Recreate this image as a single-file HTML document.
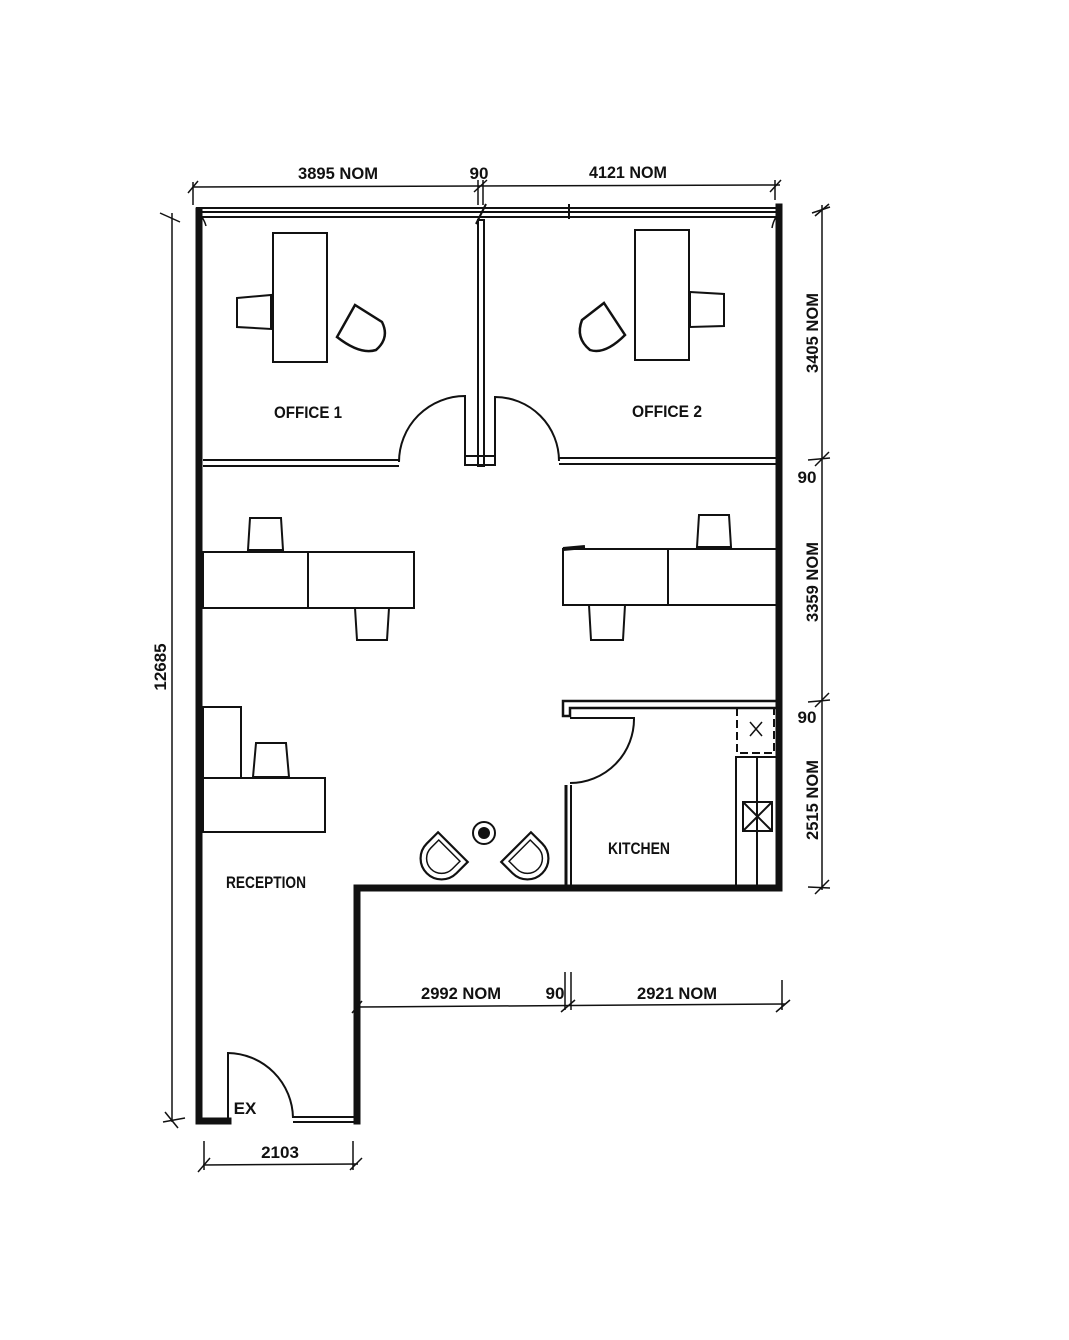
<!DOCTYPE html>
<html><head><meta charset="utf-8"><style>
html,body{margin:0;padding:0;background:#fff}
svg{display:block}
text{font-family:"Liberation Sans",sans-serif;font-size:17px;fill:#111;font-weight:bold}
</style></head><body>
<svg width="1069" height="1340" viewBox="0 0 1069 1340" xmlns="http://www.w3.org/2000/svg" fill="none" stroke="#111" stroke-width="2">
<g stroke-width="7" stroke-linecap="square">
<line x1="199" y1="211" x2="199" y2="1121"/>
<line x1="779" y1="207" x2="779" y2="887"/>
<line x1="357" y1="888" x2="779" y2="888"/>
<line x1="357" y1="888" x2="357" y2="1121"/>
<line x1="199" y1="1121" x2="228" y2="1121"/>
</g>
<line x1="196" y1="208" x2="782" y2="208"/>
<line x1="202" y1="212" x2="776" y2="212"/>
<line x1="202" y1="217" x2="776" y2="217"/>
<line x1="569" y1="204" x2="569" y2="219"/>
<path d="M202 217 Q205 222 206 226 M776 217 Q773 222 772 228" stroke-width="1.5"/>
<rect x="478" y="220" width="6" height="246" stroke-width="2"/>
<line x1="476" y1="224" x2="486" y2="204"/>
<rect x="465" y="456" width="30" height="9" stroke-width="2"/>
<line x1="203" y1="460" x2="399" y2="460"/><line x1="203" y1="466" x2="399" y2="466"/>
<line x1="559" y1="458" x2="777" y2="458"/><line x1="559" y1="464" x2="777" y2="464"/>
<path d="M465 464 L465 396 A66 66 0 0 0 399 462"/>
<path d="M495 464 L495 397 A64 64 0 0 1 559 461"/>
<rect x="273" y="233" width="54" height="129"/>
<path d="M237 298 L271 295 L271 329 L237 327 Z"/>
<path d="M355 305 L337 337 Q360 355 376 350 Q390 338 382 322 Z" stroke-width="2.5"/>
<rect x="635" y="230" width="54" height="130"/>
<path d="M690 292 L724 294 L724 326 L690 327 Z"/>
<path d="M604 303 L625 335 Q605 355 590 350 Q575 338 582 320 Z" stroke-width="2.5"/>
<rect x="203" y="552" width="211" height="56"/><line x1="308" y1="552" x2="308" y2="608"/>
<path d="M250 518 L281 518 L283 550 L248 550 Z"/>
<path d="M355 608 L389 608 L387 640 L357 640 Z"/>
<rect x="563" y="549" width="214" height="56"/><line x1="668" y1="549" x2="668" y2="605"/>
<line x1="563" y1="549" x2="585" y2="547" stroke-width="4"/>
<path d="M699 515 L729 515 L731 547 L697 547 Z"/>
<path d="M589 605 L625 605 L623 640 L591 640 Z"/>
<rect x="203" y="707" width="38" height="71"/>
<rect x="203" y="778" width="122" height="54"/>
<path d="M256 743 L286 743 L289 777 L253 777 Z"/>
<g transform="translate(443 857) rotate(45)">
<path d="M-21 -14 L21 -14 L21 2 A21 21 0 0 1 -21 2 Z" stroke-width="2.2"/>
<path d="M-15 -9 L15 -9 L15 2 A15 15 0 0 1 -15 2 Z" stroke-width="1.5"/>
</g>
<g transform="translate(526 857) rotate(-45)">
<path d="M-21 -14 L21 -14 L21 2 A21 21 0 0 1 -21 2 Z" stroke-width="2.2"/>
<path d="M-15 -9 L15 -9 L15 2 A15 15 0 0 1 -15 2 Z" stroke-width="1.5"/>
</g>
<circle cx="484" cy="833" r="11" stroke-width="2"/>
<circle cx="484" cy="833" r="6" fill="#111" stroke="none"/>
<path d="M777 701 L563 701 L563 716 L570 716 L570 708 L777 708" stroke-width="2.5"/>
<line x1="566" y1="785" x2="566" y2="888" stroke-width="3"/><line x1="571" y1="785" x2="571" y2="888"/>
<path d="M570 718 L634 718 A64 64 0 0 1 570 783"/>
<rect x="737" y="708" width="37" height="45" stroke-dasharray="8 4"/>
<path d="M750 722 L762 736 M762 722 L750 736" stroke-width="1.5"/>
<rect x="736" y="757" width="41" height="129"/><line x1="757" y1="757" x2="757" y2="886"/>
<rect x="743" y="802" width="29" height="29"/>
<path d="M743 802 L772 831 M772 802 L743 831"/>
<path d="M228 1121 L228 1053 A66 66 0 0 1 293 1118"/>
<line x1="293" y1="1117" x2="357" y2="1117"/><line x1="293" y1="1122" x2="357" y2="1122"/>
<g stroke-width="1.5">
<line x1="193" y1="187" x2="780" y2="185"/>
<line x1="193" y1="182" x2="193" y2="205"/><line x1="188" y1="193" x2="198" y2="181"/>
<line x1="478" y1="180" x2="478" y2="205"/><line x1="483" y1="180" x2="483" y2="205"/><line x1="474" y1="192" x2="487" y2="180"/>
<line x1="775" y1="180" x2="775" y2="200"/><line x1="770" y1="192" x2="781" y2="180"/>
<line x1="172" y1="213" x2="172" y2="1122"/>
<line x1="160" y1="213" x2="180" y2="222"/><line x1="163" y1="1122" x2="185" y2="1118"/><line x1="165" y1="1112" x2="178" y2="1128"/>
<line x1="822" y1="205" x2="822" y2="890"/>
<line x1="812" y1="213" x2="830" y2="207"/><line x1="815" y1="216" x2="829" y2="204"/>
<line x1="808" y1="460" x2="830" y2="458"/><line x1="815" y1="466" x2="829" y2="452"/>
<line x1="808" y1="702" x2="830" y2="700"/><line x1="815" y1="707" x2="829" y2="693"/>
<line x1="808" y1="887" x2="830" y2="888"/><line x1="815" y1="894" x2="829" y2="880"/>
<line x1="357" y1="1007" x2="785" y2="1004"/>
<line x1="352" y1="1013" x2="362" y2="1001"/>
<line x1="565" y1="972" x2="565" y2="1010"/><line x1="571" y1="972" x2="571" y2="1010"/><line x1="561" y1="1012" x2="575" y2="1000"/>
<line x1="782" y1="980" x2="782" y2="1010"/><line x1="776" y1="1012" x2="790" y2="1000"/>
<line x1="203" y1="1165" x2="358" y2="1164"/>
<line x1="204" y1="1141" x2="204" y2="1170"/><line x1="198" y1="1172" x2="210" y2="1158"/>
<line x1="353" y1="1141" x2="353" y2="1170"/><line x1="350" y1="1170" x2="362" y2="1158"/>
</g>
<g stroke="none">
<text x="338" y="179" text-anchor="middle" textLength="80" lengthAdjust="spacingAndGlyphs">3895 NOM</text>
<text x="479" y="179" text-anchor="middle">90</text>
<text x="628" y="178" text-anchor="middle" textLength="78" lengthAdjust="spacingAndGlyphs">4121 NOM</text>
<text transform="translate(166 667) rotate(-90)" text-anchor="middle">12685</text>
<text transform="translate(818 333) rotate(-90)" text-anchor="middle" textLength="80" lengthAdjust="spacingAndGlyphs">3405 NOM</text>
<text x="807" y="483" text-anchor="middle">90</text>
<text transform="translate(818 582) rotate(-90)" text-anchor="middle" textLength="80" lengthAdjust="spacingAndGlyphs">3359 NOM</text>
<text x="807" y="723" text-anchor="middle">90</text>
<text transform="translate(818 800) rotate(-90)" text-anchor="middle" textLength="80" lengthAdjust="spacingAndGlyphs">2515 NOM</text>
<text x="461" y="999" text-anchor="middle" textLength="80" lengthAdjust="spacingAndGlyphs">2992 NOM</text>
<text x="555" y="999" text-anchor="middle">90</text>
<text x="677" y="999" text-anchor="middle" textLength="80" lengthAdjust="spacingAndGlyphs">2921 NOM</text>
<text x="280" y="1158" text-anchor="middle">2103</text>
<text x="308" y="418" text-anchor="middle" textLength="68" lengthAdjust="spacingAndGlyphs">OFFICE 1</text>
<text x="667" y="417" text-anchor="middle" textLength="70" lengthAdjust="spacingAndGlyphs">OFFICE 2</text>
<text x="639" y="854" text-anchor="middle" textLength="62" lengthAdjust="spacingAndGlyphs">KITCHEN</text>
<text x="266" y="888" text-anchor="middle" textLength="80" lengthAdjust="spacingAndGlyphs">RECEPTION</text>
<text x="245" y="1114" text-anchor="middle">EX</text>
</g>
</svg>
</body></html>
